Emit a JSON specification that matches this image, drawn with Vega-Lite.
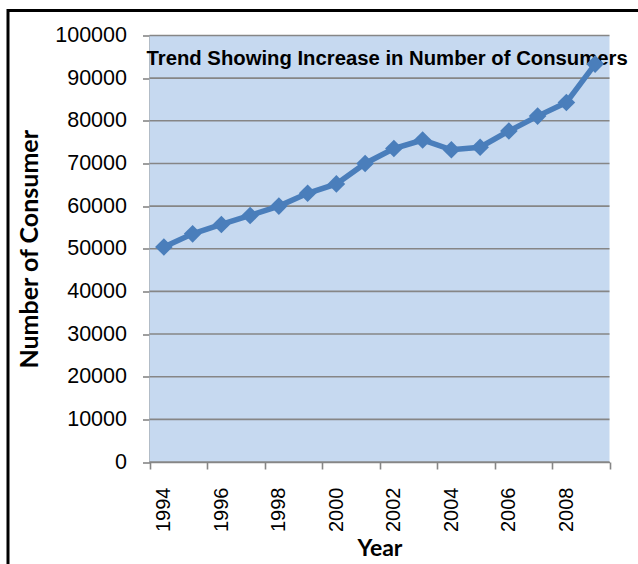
{
  "$schema": "https://vega.github.io/schema/vega-lite/v6.json",
  "autosize": {"type": "none"},
  "padding": {"left": 8, "top": 10.5, "right": -10, "bottom": -11.5},
  "width": 640,
  "height": 565,
  "background": "#ffffff",
  "config": {
    "view": {"stroke": "#000000", "strokeWidth": 3, "fill": "#ffffff"},
    "font": "Liberation Sans"
  },
  "layer": [
    {
      "data": {"values": [{}]},
      "mark": {"type": "rect", "fill": "#c6d9f0"},
      "encoding": {
        "x": {"datum": 1993.5, "type": "quantitative"},
        "x2": {"datum": 2009.5},
        "y": {"datum": 0, "type": "quantitative"},
        "y2": {"datum": 100000}
      }
    },
    {
      "data": {"values": [
        {"tick": 0}, {"tick": 10000}, {"tick": 20000}, {"tick": 30000},
        {"tick": 40000}, {"tick": 50000}, {"tick": 60000}, {"tick": 70000},
        {"tick": 80000}, {"tick": 90000}, {"tick": 100000}
      ]},
      "mark": {"type": "rule", "stroke": "#868686", "strokeWidth": 1.6},
      "encoding": {
        "x": {"datum": 1993.5, "type": "quantitative"},
        "x2": {"datum": 2009.5},
        "y": {"field": "tick", "type": "quantitative"}
      }
    },
    {
      "data": {"values": [{"caption": "Trend Showing Increase in Number of Consumers"}]},
      "mark": {
        "type": "text",
        "align": "left",
        "baseline": "alphabetic",
        "font": "Liberation Sans",
        "fontWeight": "bold",
        "fontSize": 20.3,
        "dx": -3,
        "color": "#000000"
      },
      "encoding": {
        "x": {"datum": 1993.5, "type": "quantitative"},
        "y": {"datum": 93100, "type": "quantitative"},
        "text": {"field": "caption"}
      }
    },
    {
      "data": {"values": [
        {"year": 1994, "consumers": 50400},
        {"year": 1995, "consumers": 53500},
        {"year": 1996, "consumers": 55700},
        {"year": 1997, "consumers": 57800},
        {"year": 1998, "consumers": 60000},
        {"year": 1999, "consumers": 63000},
        {"year": 2000, "consumers": 65200},
        {"year": 2001, "consumers": 70000},
        {"year": 2002, "consumers": 73500},
        {"year": 2003, "consumers": 75500},
        {"year": 2004, "consumers": 73200},
        {"year": 2005, "consumers": 73800},
        {"year": 2006, "consumers": 77600},
        {"year": 2007, "consumers": 81100},
        {"year": 2008, "consumers": 84300},
        {"year": 2009, "consumers": 93300}
      ]},
      "mark": {
        "type": "line",
        "color": "#4a7ebb",
        "strokeWidth": 5.5,
        "point": {"shape": "diamond", "size": 310, "filled": true, "color": "#4a7ebb"}
      },
      "encoding": {
        "x": {
          "field": "year",
          "type": "quantitative",
          "scale": {"domain": [1993.5, 2009.5], "range": [141.5, 601.5], "nice": false, "zero": false},
          "axis": {
            "title": "Year",
            "titleFont": "Lato",
            "titleFontWeight": "bold",
            "titleFontSize": 23,
            "titleColor": "#000000",
            "titlePadding": 6,
            "offset": -113.5,
            "values": [1993.5, 1994.5, 1995.5, 1996.5, 1997.5, 1998.5, 1999.5, 2000.5, 2001.5, 2002.5, 2003.5, 2004.5, 2005.5, 2006.5, 2007.5, 2008.5, 2009.5],
            "labelExpr": "(datum.value + 0.5) % 2 === 0 && datum.value < 2009 ? '' + (datum.value + 0.5) : ''",
            "labelOffset": 14.375,
            "labelAngle": -90,
            "labelFont": "Liberation Sans",
            "labelFontSize": 20,
            "labelColor": "#000000",
            "labelPadding": 18,
            "labelOverlap": false,
            "labelFlush": false,
            "grid": false,
            "domainColor": "#868686",
            "domainWidth": 1.6,
            "tickColor": "#868686",
            "tickWidth": 1.6,
            "tickSize": 7
          }
        },
        "y": {
          "field": "consumers",
          "type": "quantitative",
          "scale": {"domain": [0, 100000], "range": [451.5, 25], "nice": false, "zero": true},
          "axis": {
            "title": "Number  of Consumer",
            "titleFont": "Lato",
            "titleFontWeight": "bold",
            "titleFontSize": 25,
            "titleColor": "#000000",
            "titlePadding": 12,
            "offset": -141.5,
            "values": [0, 10000, 20000, 30000, 40000, 50000, 60000, 70000, 80000, 90000, 100000],
            "format": "d",
            "labelFont": "Liberation Sans",
            "labelFontSize": 21.5,
            "labelColor": "#000000",
            "labelPadding": 16,
            "labelOverlap": false,
            "labelFlush": false,
            "grid": false,
            "domainColor": "#868686",
            "domainWidth": 1.6,
            "tickColor": "#868686",
            "tickWidth": 1.6,
            "tickSize": 7
          }
        }
      }
    }
  ]
}
